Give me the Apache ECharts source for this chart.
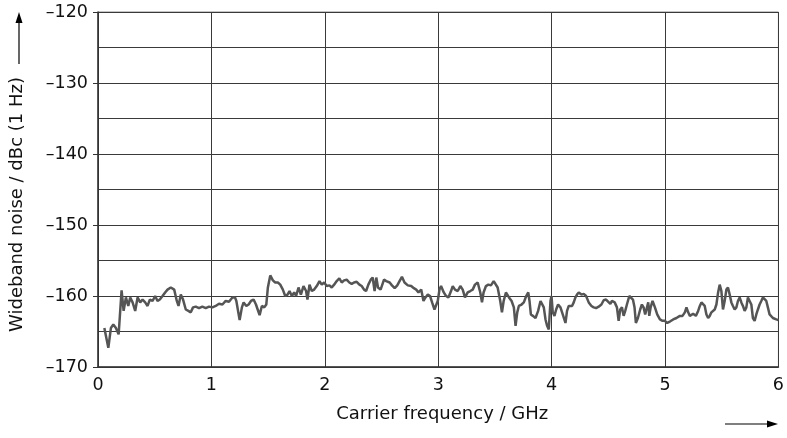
<!DOCTYPE html>
<html>
<head>
<meta charset="utf-8">
<script src="https://cdn.jsdelivr.net/npm/echarts@6/dist/echarts.min.js"></script>
<style>
html,body{margin:0;padding:0;background:#fff;}
#chart{width:787px;height:438px;}
</style>
</head>
<body>
<div id="chart"></div>
<script>
// Carrier frequency (GHz)
const freqGHz = [
0.056,0.091,0.114,0.135,0.158,0.182,0.208,0.226,0.246,0.267,0.284,0.305,0.328,0.349,0.372,0.393,0.416,0.437,0.457,0.481,0.504,0.525,0.545,0.569,0.592,0.613,0.642,0.672,0.695,0.710,0.730,0.750,0.774,0.797,0.818,0.838,0.862,0.891,0.920,0.950,0.979,1.009,1.038,1.067,1.097,1.126,1.155,1.185,
1.208,1.220,1.249,1.269,1.284,1.308,1.328,1.349,1.372,1.393,1.408,1.425,1.445,1.466,1.484,1.498,1.519,1.542,1.563,1.586,1.607,1.630,1.651,1.671,1.689,1.709,1.730,1.747,1.768,1.789,1.812,1.835,1.847,1.865,1.885,1.906,1.929,1.953,1.973,1.994,2.017,2.041,2.061,2.082,2.105,2.128,2.149,2.170,2.193,2.216,2.237,2.258,2.281,2.305,2.325,2.346,2.364,2.384,2.405,2.422,
2.439,2.454,2.469,2.492,2.522,2.542,2.572,2.592,2.616,2.639,2.659,2.680,2.703,2.732,2.762,2.785,2.806,2.826,2.850,2.870,2.888,2.908,2.928,2.946,2.967,2.982,2.996,3.011,3.025,3.049,3.069,3.090,3.113,3.128,3.148,3.172,3.195,3.216,3.236,3.260,3.283,3.304,3.324,3.348,3.371,3.386,3.400,3.421,3.442,3.465,3.489,3.506,3.524,3.547,3.562,3.577,3.597,
3.624,3.647,3.667,3.682,3.697,3.711,3.735,3.755,3.776,3.794,3.805,3.817,3.835,3.858,3.881,3.902,3.917,3.931,3.946,3.960,3.975,3.990,3.999,4.010,4.025,4.040,4.057,4.078,4.098,4.122,4.136,4.151,4.166,4.180,4.195,4.210,4.224,4.239,4.263,4.283,4.304,4.327,4.351,4.371,4.392,4.415,4.439,4.459,4.480,4.497,4.518,4.532,4.556,4.576,4.591,4.605,4.620,4.635,4.649,4.664,4.685,4.702,4.717,4.731,4.743,4.761,4.781,4.796,4.811,4.825,
4.852,4.861,4.873,4.890,4.911,4.931,4.955,4.978,4.999,5.019,5.043,5.072,5.101,5.131,5.154,5.175,5.189,5.204,5.219,5.233,5.248,5.272,5.292,5.307,5.321,5.336,5.350,5.365,5.380,5.394,5.409,5.424,5.438,5.453,5.468,5.482,5.497,5.511,5.526,5.541,5.555,5.570,5.585,5.599,5.614,5.629,5.643,5.658,5.673,5.687,5.702,5.717,5.731,5.746,5.761,5.775,5.790,5.805,5.819,5.834,5.849,5.863,5.878,5.893,5.907,5.922,5.951,5.981,6.000
];
// Wideband noise (dBc, 1 Hz)
const noiseDbc = [
-164.5,-167.3,-164.5,-164.0,-164.5,-165.4,-159.2,-162.1,-160.2,-161.4,-160.2,-160.9,-162.1,-160.2,-160.9,-160.5,-160.9,-161.4,-160.5,-160.7,-160.0,-160.7,-160.5,-160.0,-159.5,-159.1,-158.8,-159.1,-160.7,-161.4,-159.8,-160.5,-161.9,-162.1,-162.3,-161.6,-161.5,-161.7,-161.5,-161.7,-161.5,-161.6,-161.4,-161.1,-161.2,-160.7,-160.8,-160.2,
-160.2,-160.7,-163.4,-161.6,-160.9,-161.4,-161.2,-160.7,-160.5,-161.2,-161.9,-162.7,-161.4,-161.6,-161.2,-158.8,-157.1,-157.8,-158.1,-158.1,-158.4,-159.1,-160.0,-159.8,-159.3,-160.0,-159.5,-160.0,-158.8,-159.8,-158.6,-159.3,-160.5,-158.4,-159.3,-159.1,-158.6,-157.9,-158.4,-158.1,-158.6,-158.5,-158.8,-158.4,-157.9,-157.5,-158.1,-157.8,-157.7,-158.1,-158.3,-158.1,-158.0,-158.4,-158.6,-159.1,-159.3,-158.4,-157.7,-157.4,
-159.3,-157.4,-158.8,-159.1,-157.7,-157.9,-158.1,-158.5,-158.9,-158.5,-157.9,-157.3,-158.1,-158.5,-158.6,-158.9,-159.1,-159.5,-159.1,-160.7,-160.2,-159.8,-160.0,-160.9,-161.9,-162.1,-160.7,-159.1,-158.6,-159.5,-160.0,-160.2,-159.3,-158.6,-159.1,-159.3,-158.6,-159.1,-160.2,-159.5,-159.3,-159.1,-158.4,-158.1,-159.5,-160.9,-159.5,-158.6,-158.4,-158.5,-157.9,-157.7,-158.8,-160.7,-162.3,-160.7,-159.5,
-160.2,-160.7,-161.6,-164.2,-162.3,-161.4,-161.2,-160.9,-160.0,-159.5,-160.7,-162.6,-162.8,-163.1,-162.1,-160.7,-160.5,-161.6,-163.3,-164.2,-164.7,-160.7,-160.0,-162.3,-162.8,-161.9,-161.2,-161.6,-162.6,-163.8,-162.1,-161.4,-161.2,-161.4,-160.9,-160.2,-159.8,-159.5,-159.8,-159.7,-160.0,-160.9,-161.4,-161.6,-161.7,-161.5,-161.2,-160.6,-160.5,-160.7,-161.1,-160.7,-160.9,-161.6,-163.5,-161.9,-161.6,-162.8,-162.1,-161.2,-160.0,-159.9,-160.5,-161.6,-163.8,-163.1,-161.9,-161.2,-161.6,-162.6,
-160.9,-162.8,-161.6,-160.7,-161.6,-162.6,-163.3,-163.5,-163.5,-163.8,-163.6,-163.3,-163.1,-162.8,-162.8,-162.3,-161.6,-162.3,-162.8,-162.6,-162.5,-162.8,-162.1,-161.4,-160.9,-160.8,-161.4,-162.6,-163.1,-162.8,-162.3,-162.1,-161.9,-161.2,-159.5,-158.4,-159.3,-161.9,-160.7,-159.1,-158.8,-159.8,-160.9,-161.4,-161.9,-161.6,-160.7,-160.2,-160.9,-161.4,-162.1,-161.6,-160.2,-160.0,-161.2,-163.1,-163.5,-162.6,-161.9,-161.2,-160.7,-160.2,-160.1,-160.7,-161.6,-162.6,-163.1,-163.3,-163.4
];
const xTicks = [0,1,2,3,4,5,6];
const yTicks = [-170,-160,-150,-140,-130,-120];

const font = '"DejaVu Sans", "Liberation Sans", Arial, sans-serif';
const chart = echarts.init(document.getElementById('chart'), null, {renderer:'canvas'});
const fmt = v => (v < 0 ? '\u2013' + Math.abs(v) : String(v));

chart.setOption({
  animation: false,
  backgroundColor: '#fff',
  grid: {left: 98, right: 7, top: 12, bottom: 71, show: true, borderColor: '#8a8a8a', borderWidth: 1},
  xAxis: {
    type: 'value', min: xTicks[0], max: xTicks[xTicks.length-1], interval: 1,
    axisLine: {show: true, lineStyle: {color: '#333', width: 1.5}},
    axisTick: {show: false},
    splitLine: {show: true, lineStyle: {color: '#3a3a3a', width: 1}},
    axisLabel: {color: '#111', fontSize: 17.5, fontFamily: font, margin: 9, formatter: fmt},
    name: 'Carrier frequency / GHz', nameLocation: 'middle', nameGap: 38,
    nameTextStyle: {color: '#111', fontSize: 18, fontFamily: font, padding: [0, 0, 0, 8]}
  },
  yAxis: {
    type: 'value', min: yTicks[0], max: yTicks[yTicks.length-1], interval: 10,
    axisLine: {show: true, lineStyle: {color: '#333', width: 1.5}},
    axisTick: {show: true, length: 5, lineStyle: {color: '#333'}},
    splitLine: {show: true, lineStyle: {color: '#3a3a3a', width: 1}},
    minorTick: {show: false, splitNumber: 2},
    minorSplitLine: {show: true, lineStyle: {color: '#3a3a3a', width: 1}},
    axisLabel: {color: '#111', fontSize: 17.5, fontFamily: font, margin: 10, formatter: fmt},
    name: 'Wideband noise / dBc (1 Hz)', nameLocation: 'middle', nameGap: 72,
    nameTextStyle: {color: '#111', fontSize: 18, fontFamily: font, padding: [0, 30, 0, 0]}
  },
  series: [{
    type: 'line',
    data: freqGHz.map((f, i) => [f, noiseDbc[i]]),
    showSymbol: false,
    lineStyle: {color: '#555', width: 2.5},
    z: 5
  }],
  graphic: [
    {type: 'line', shape: {x1: 19, y1: 64, x2: 19, y2: 22}, style: {stroke: '#000', lineWidth: 1.2}},
    {type: 'polygon', shape: {points: [[19, 12], [15.5, 23], [22.5, 23]]}, style: {fill: '#000'}},
    {type: 'line', shape: {x1: 725, y1: 424, x2: 768, y2: 424}, style: {stroke: '#000', lineWidth: 1.2}},
    {type: 'polygon', shape: {points: [[778, 424], [767, 420.5], [767, 427.5]]}, style: {fill: '#000'}}
  ]
});
</script>
</body>
</html>
